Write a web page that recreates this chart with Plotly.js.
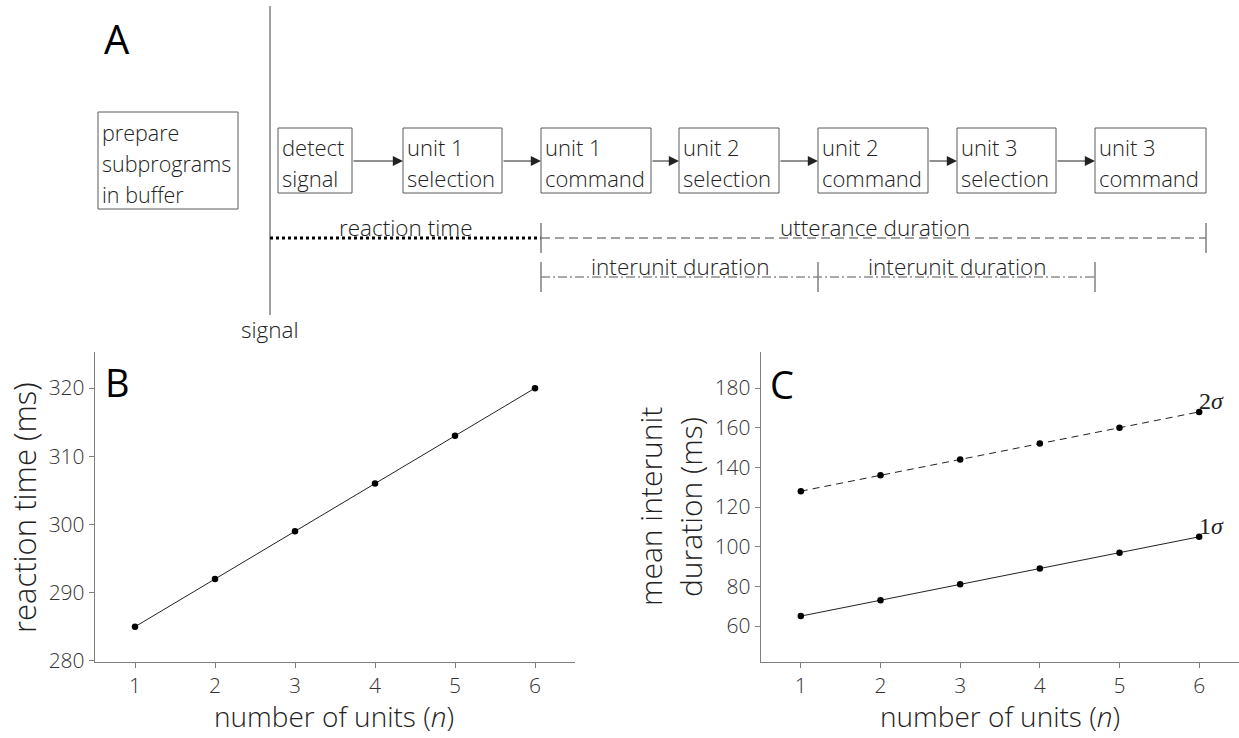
<!DOCTYPE html>
<html>
<head>
<meta charset="utf-8">
<script src="https://cdn.plot.ly/plotly-3.0.1.min.js"></script>
<style>html,body{margin:0;padding:0;background:#fff;}#chart{width:1239px;height:738px;}</style>
</head>
<body>
<div id="chart"></div>
<script>
// ---- data ----
const units = [1, 2, 3, 4, 5, 6];
const reactionTime = [285, 292, 299, 306, 313, 320];
const interunit1sigma = [65, 73, 81, 89, 97, 105];
const interunit2sigma = [128, 136, 144, 152, 160, 168];
const reactionTicks = [280, 290, 300, 310, 320];
const interunitTicks = [60, 80, 100, 120, 140, 160, 180];
const seriesLabels = ['1', '2'];
const bufferLabel = ['prepare', 'subprograms', 'in buffer'];
const stageLabels = [
  ['detect', 'signal'],
  ['unit 1', 'selection'],
  ['unit 1', 'command'],
  ['unit 2', 'selection'],
  ['unit 2', 'command'],
  ['unit 3', 'selection'],
  ['unit 3', 'command']
];
const spanLabels = ['reaction time', 'utterance duration', 'interunit duration', 'interunit duration'];

// ---- diagram layout (pixel space of panel A) ----
const stageLeft  = [278, 403, 541, 679, 818, 957, 1095];
const stageRight = [352, 502, 651, 779, 928, 1056, 1206];
const stageTop = 128, stageBottom = 193;
const bufferBox = [98, 112, 238, 209];
const signalX = 270;

const FONT = '"Open Sans", "Segoe UI", Lato, sans-serif';
const TXT = '#222222';
const AX = '#808080';
const BOX = '#5a5a5a';

const shapes = [];
const ann = [];
function t(x, y, text, size, opts) {
  ann.push(Object.assign({xref: 'x3', yref: 'y3', x: x, y: y, text: text, showarrow: false,
    font: {family: FONT, size: size, color: TXT, weight: 300}}, opts || {}));
}
function line(x0, y0, x1, y1, color, width, dash) {
  shapes.push({type: 'line', xref: 'x3', yref: 'y3', x0: x0, y0: y0, x1: x1, y1: y1,
    line: {color: color, width: width, dash: dash || 'solid'}});
}

// buffer box
shapes.push({type: 'rect', xref: 'x3', yref: 'y3', x0: bufferBox[0], y0: bufferBox[1], x1: bufferBox[2], y1: bufferBox[3],
  line: {color: BOX, width: 1}});
bufferLabel.forEach((s, i) => t(bufferBox[0] + 2, 132 + i * 31, s, 21.5, {xanchor: 'left', yanchor: 'middle'}));

// stage boxes
stageLabels.forEach((lbl, i) => {
  shapes.push({type: 'rect', xref: 'x3', yref: 'y3', x0: stageLeft[i], y0: stageTop, x1: stageRight[i], y1: stageBottom,
    line: {color: BOX, width: 1}});
  lbl.forEach((s, j) => t(stageLeft[i] + 2, 147 + j * 31, s, 22, {xanchor: 'left', yanchor: 'middle'}));
  if (i < stageLabels.length - 1) {
    ann.push({xref: 'x3', yref: 'y3', axref: 'x3', ayref: 'y3', x: stageLeft[i + 1], y: 161,
      ax: stageRight[i], ay: 161, text: '', showarrow: true, arrowhead: 2, arrowsize: 1.7,
      arrowwidth: 1.2, arrowcolor: '#222', standoff: 0});
  }
});

// signal line
line(signalX, 6, signalX, 315, AX, 1.5);
t(signalX, 329, 'signal', 22.5, {yanchor: 'middle'});

// reaction time (dotted)
line(signalX, 238, stageLeft[2], 238, '#000', 3, 'dot');
t((signalX + stageLeft[2]) / 2, 227, spanLabels[0], 22.5, {yanchor: 'middle'});
// utterance (dashed)
line(stageLeft[2], 238, stageRight[6], 238, '#444', 1, '9px,5px');
line(stageLeft[2], 223, stageLeft[2], 253, AX, 1.5);
line(stageRight[6], 223, stageRight[6], 253, AX, 1.5);
t(875, 227, spanLabels[1], 22.5, {yanchor: 'middle'});
// interunit (dash-dot)
line(stageLeft[2], 277, stageLeft[6], 277, '#555', 1, '9px,3px,2px,3px');
[stageLeft[2], stageLeft[4], stageLeft[6]].forEach(x => line(x, 262, x, 292, AX, 1.5));
t((stageLeft[2] + stageLeft[4]) / 2, 266, spanLabels[2], 22.5, {yanchor: 'middle'});
t((stageLeft[4] + stageLeft[6]) / 2, 266, spanLabels[3], 22.5, {yanchor: 'middle'});

// panel letters
t(117, 38, 'A', 40, {font: {family: FONT, size: 40, color: '#000', weight: 400}});
t(117, 382, 'B', 38, {font: {family: FONT, size: 38, color: '#000', weight: 400}});
t(782, 384, 'C', 38, {font: {family: FONT, size: 38, color: '#000', weight: 400}});

// axis titles
t(24, 508, 'reaction time (ms)', 31, {textangle: -90});
t(334, 737, 'number of units (<i>n</i>)', 28, {yanchor: 'bottom'});
t(650, 507, 'mean interunit', 30, {textangle: -90});
t(690, 507, 'duration (ms)', 30, {textangle: -90});
t(1000, 737, 'number of units (<i>n</i>)', 28, {yanchor: 'bottom'});

// sigma labels attached to data points
const sigFont = {family: '"Liberation Serif", "DejaVu Serif", serif', size: 24, color: '#222'};
ann.push({xref: 'x2', yref: 'y2', x: units[5], y: interunit2sigma[5], text: seriesLabels[1] + '<i>\u03c3</i>',
  showarrow: false, xanchor: 'left', yanchor: 'bottom', xshift: -2, yshift: -4, font: sigFont});
ann.push({xref: 'x2', yref: 'y2', x: units[5], y: interunit1sigma[5], text: seriesLabels[0] + '<i>\u03c3</i>',
  showarrow: false, xanchor: 'left', yanchor: 'bottom', xshift: -2, yshift: -4, font: sigFont});

const W = 1239, H = 738;
const axisCommon = {
  showline: true, linecolor: AX, linewidth: 1.2, showgrid: false, zeroline: false,
  ticks: 'outside', ticklen: 5, tickcolor: AX, tickwidth: 1,
  tickfont: {family: FONT, size: 21, color: '#333', weight: 300}, fixedrange: true
};

const traces = [
  {x: units, y: reactionTime, xaxis: 'x', yaxis: 'y', mode: 'lines+markers',
   line: {color: '#222', width: 1}, marker: {color: '#000', size: 6.5}, hoverinfo: 'skip'},
  {x: units, y: interunit1sigma, xaxis: 'x2', yaxis: 'y2', mode: 'lines+markers',
   line: {color: '#222', width: 1}, marker: {color: '#000', size: 6.5}, hoverinfo: 'skip'},
  {x: units, y: interunit2sigma, xaxis: 'x2', yaxis: 'y2', mode: 'lines+markers',
   line: {color: '#222', width: 1, dash: '7px,5px'}, marker: {color: '#000', size: 6.5}, hoverinfo: 'skip'}
];

const yDom = [1 - 661.5 / H, 1 - 352 / H];
const layout = {
  width: W, height: H, margin: {l: 0, r: 0, t: 0, b: 0},
  paper_bgcolor: '#fff', plot_bgcolor: 'rgba(0,0,0,0)', showlegend: false,
  xaxis: Object.assign({}, axisCommon, {domain: [95 / W, 575 / W], range: [0.5, 6.5], tickvals: units, anchor: 'y'}),
  yaxis: Object.assign({}, axisCommon, {domain: yDom, range: [279.9, 325.3], tickvals: reactionTicks, anchor: 'x'}),
  xaxis2: Object.assign({}, axisCommon, {domain: [761 / W, 1], range: [0.5, 6.5], tickvals: units, anchor: 'y2'}),
  yaxis2: Object.assign({}, axisCommon, {domain: yDom, range: [42.1, 198.2], tickvals: interunitTicks, anchor: 'x2'}),
  xaxis3: {domain: [0, 1], range: [0, W], visible: false, fixedrange: true, anchor: 'y3'},
  yaxis3: {domain: [0, 1], range: [H, 0], visible: false, fixedrange: true, anchor: 'x3'},
  shapes: shapes, annotations: ann
};

Plotly.newPlot('chart', traces, layout, {staticPlot: true, displayModeBar: false});
</script>
</body>
</html>
